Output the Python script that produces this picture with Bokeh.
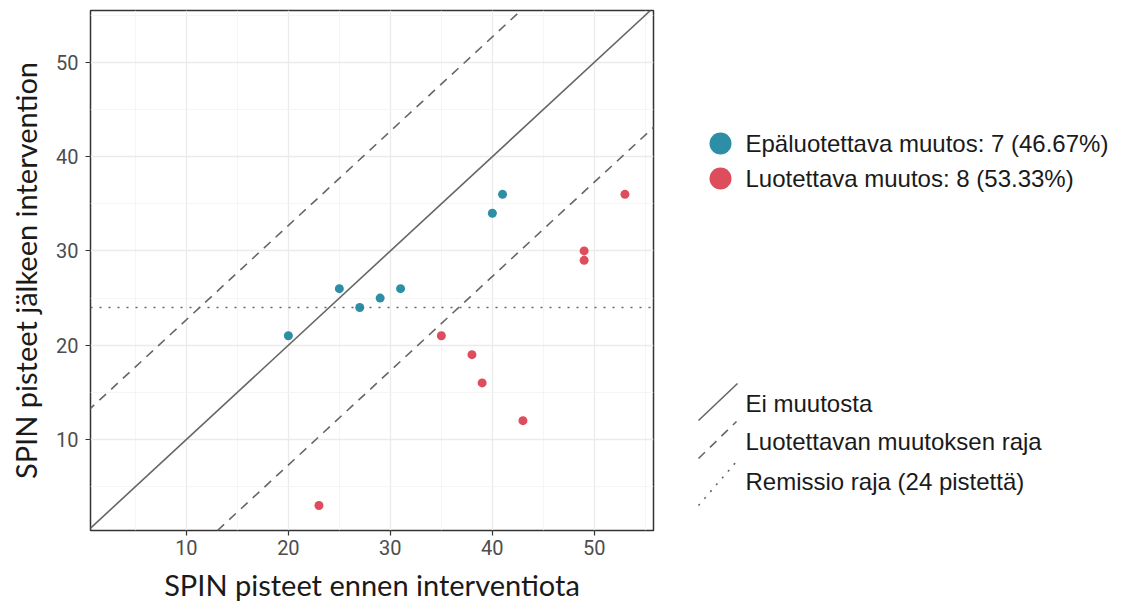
from bokeh.plotting import figure
from bokeh.layouts import row
from bokeh.models import Range1d, FixedTicker, Slope, Span
from bokeh.core.properties import value
from bokeh.embed import file_html
from bokeh.resources import INLINE

# ---- data ----
unrel_before = [20, 25, 27, 29, 31, 40, 41]
unrel_after = [21, 26, 24, 25, 26, 34, 36]
rel_before = [23, 35, 38, 39, 43, 49, 49, 53]
rel_after = [3, 21, 19, 16, 12, 30, 29, 36]
rci = 12.7
remission = 24
x_ticks = [10, 20, 30, 40, 50]
y_ticks = [10, 20, 30, 40, 50]
minor_ticks = [5, 15, 25, 35, 45, 55]
group_labels = ["Epäluotettava muutos: 7 (46.67%)", "Luotettava muutos: 8 (53.33%)"]
line_labels = ["Ei muutosta", "Luotettavan muutoksen raja", "Remissio raja (24 pistettä)"]

BLUE = "#2E8EA5"
RED = "#DE4D5B"
LINE = "#666666"

TOP, BOTTOM = 10, 74
p = figure(width=655, height=604, output_backend="svg", toolbar_location=None,
           x_range=Range1d(0.6, 55.8), y_range=Range1d(0.35, 55.5),
           min_border_left=90, min_border_right=2, min_border_top=TOP, min_border_bottom=BOTTOM)
p.background_fill_color = "white"
p.border_fill_color = "white"
p.outline_line_color = "#333333"
p.outline_line_width = 1.5

p.xaxis.ticker = FixedTicker(ticks=x_ticks, minor_ticks=minor_ticks)
p.yaxis.ticker = FixedTicker(ticks=y_ticks, minor_ticks=minor_ticks)
for ax in (p.xaxis, p.yaxis):
    ax.axis_line_color = None
    ax.major_tick_line_color = "#333333"
    ax.major_tick_line_width = 1.2
    ax.major_tick_out = 5
    ax.major_tick_in = 0
    ax.minor_tick_line_color = None
    ax.major_label_text_font = "Roboto"
    ax.major_label_text_font_size = "20px"
    ax.major_label_text_color = "#4d4d4d"
    ax.axis_label_text_font = "Lato"
    ax.axis_label_text_font_size = "29px"
    ax.axis_label_text_font_style = "normal"
    ax.axis_label_text_color = "#1a1a1a"
p.xaxis.axis_label = "SPIN pisteet ennen interventiota"
p.yaxis.axis_label = "SPIN pisteet jälkeen intervention"
p.xaxis.major_label_standoff = 4
p.yaxis.major_label_standoff = 7
p.xaxis.axis_label_standoff = 9
p.yaxis.axis_label_standoff = 10

p.grid.grid_line_color = "#ebebeb"
p.grid.grid_line_width = 1.3
p.grid.minor_grid_line_color = "#f3f3f3"
p.grid.minor_grid_line_width = 0.8

p.add_layout(Slope(gradient=1, y_intercept=0, line_color=LINE, line_width=1.6))
p.add_layout(Slope(gradient=1, y_intercept=rci, line_color=LINE, line_width=1.6, line_dash="9 7"))
p.add_layout(Slope(gradient=1, y_intercept=-rci, line_color=LINE, line_width=1.6, line_dash="9 7"))
p.add_layout(Span(location=remission, dimension="width", line_color=LINE, line_width=1.6, line_dash="2 7"))

p.scatter(unrel_before, unrel_after, size=9, color=BLUE, line_color=None)
p.scatter(rel_before, rel_after, size=9, color=RED, line_color=None)

# ---- legend panel (coordinates in page pixels) ----
lg = figure(width=468, height=604, output_backend="svg", toolbar_location=None,
            x_range=Range1d(655, 1123), y_range=Range1d(530, 10),
            min_border_left=0, min_border_right=0, min_border_top=TOP, min_border_bottom=BOTTOM)
lg.axis.visible = False
lg.grid.visible = False
lg.outline_line_color = None
lg.background_fill_color = "white"
lg.border_fill_color = "white"

lg.scatter([720, 720], [143, 178], size=22, color=[BLUE, RED], line_color=None)
lg.text([745, 745], [143, 178], text=group_labels, text_font=value("Liberation Sans"),
        text_font_size="24px", text_baseline="middle", text_color="#1a1a1a")

lg.segment(x0=[698], y0=[420], x1=[737], y1=[383], line_color=LINE, line_width=1.6)
lg.segment(x0=[698], y0=[458], x1=[736], y1=[421], line_color=LINE, line_width=1.6, line_dash="9 7")
lg.segment(x0=[698], y0=[505], x1=[736], y1=[461], line_color=LINE, line_width=1.6, line_dash="2 7")
lg.text([745, 745, 745], [403, 441, 481], text=line_labels, text_font=value("Liberation Sans"),
        text_font_size="24px", text_baseline="middle", text_color="#1a1a1a")

layout = row(p, lg)
open("out.html", "w").write(file_html(layout, INLINE))
